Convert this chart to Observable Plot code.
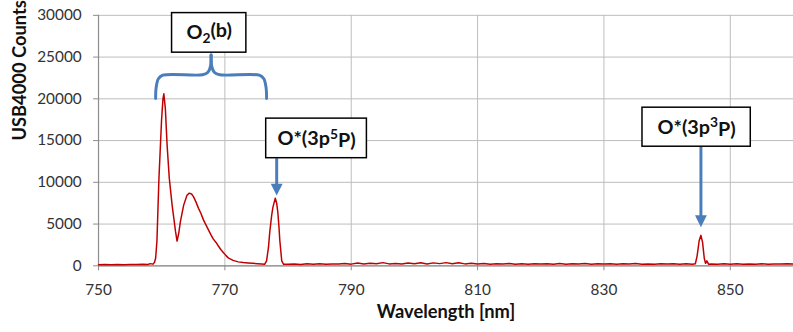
<!DOCTYPE html>
<html><head><meta charset="utf-8">
<script src="https://cdn.jsdelivr.net/npm/d3@7"></script>
<script src="https://cdn.jsdelivr.net/npm/@observablehq/plot@0.6"></script>
<style>html,body{margin:0;padding:0;overflow:hidden;background:#fff}</style>
</head><body><div id="chart"></div>
<script>
// Spectrum
const wavelength = [
750,751,752,753,754,755,756,757,757.8,758.2,758.6,758.85,
759.04,759.25,759.56,759.98,760.2,760.34,760.58,760.86,761.2,761.65,762.18,762.43,
762.7,762.96,763.48,764.0,764.37,764.73,765.05,765.45,765.83,766.2,766.61,767.0,
767.4,767.8,768.18,768.6,768.97,769.35,769.75,770.15,770.53,771.3,772.1,772.9,
773.67,774.4,775.2,775.8,776.29,776.6,776.9,777.1,777.4,777.6,777.98,778.2,
778.37,778.55,778.7,779.0,779.3,
780,781,782,783,784,785,786,787,788,789,790,791,792,793,794,795,796,797,798,799,
800,801,802,803,804,805,806,807,808,809,810,811,812,813,814,815,816,817,818,819,
820,821,822,823,824,825,826,827,828,829,830,831,832,833,834,835,836,837,838,839,
840,841,842,843,844,844.47,844.75,845.07,845.35,845.61,845.88,846.08,846.29,846.55,
847,848,849,850,851,852,853,854,855,856,857,858,859,860
];
const counts = [
120,150,130,160,140,170,150,180,160,260,200,400,
900,3000,10400,17500,20000,20600,18800,14400,10500,7270,4150,2960,
3900,5300,7270,8450,8700,8600,8260,7600,6880,6300,5500,4900,
4300,3700,3200,2800,2370,1950,1600,1250,950,650,470,400,
350,300,250,220,180,600,2200,4000,6000,7000,8100,7500,
6500,4800,3000,600,180,
180,220,170,240,200,260,190,230,210,280,200,340,220,300,250,380,230,290,210,330,
240,360,220,350,260,380,250,360,230,300,220,280,190,250,210,270,200,240,190,260,
220,250,180,270,200,240,210,280,200,250,220,260,190,240,210,270,200,230,190,250,
210,260,200,240,190,250,1200,3000,3650,2800,900,300,600,200,
220,190,240,200,260,190,230,200,250,190,230,210,240,200
];
const xTicks = [750, 770, 790, 810, 830, 850];
const yTicks = [0, 5000, 10000, 15000, 20000, 25000, 30000];

// Annotation boxes (data units)
const boxText = ["O2(b)", "O*(3p5P)", "O*(3p3P)"];
const boxX1 = [761.64, 776.54, 836.1];
const boxX2 = [773.4, 792.48, 853.24];
const boxY1 = [25530, 12890, 14265];
const boxY2 = [30270, 17630, 18940];

// Arrows (data units)
const arrowX = [778.2, 845.35];
const arrowFrom = [12890, 14265];
const arrowTip = [8420, 4625];

// Curly bracket over the O2(b) band (data units)
const bracketX = [759.04,759.12,759.48,760.19,766.46,767.32,767.74,767.82,
                  776.6,776.52,776.16,775.45,769.18,768.32,767.9,767.82];
const bracketY = [20040,21345,22410,22830,22886,23180,23950,25260,
                  20040,21345,22410,22830,22886,23180,23950,25260];
const bracketSide = ["L","L","L","L","L","L","L","L","R","R","R","R","R","R","R","R"];

const spectrum = wavelength.map((w, i) => ({w, c: counts[i]}));
const boxes = boxText.map((t, i) => ({t, x1: boxX1[i], x2: boxX2[i], y1: boxY1[i], y2: boxY2[i]}));
const arrows = arrowX.map((x, i) => ({x, y1: arrowFrom[i], y2: arrowTip[i] + 1100, tip: arrowTip[i]}));
const bracket = bracketX.map((x, i) => ({x, y: bracketY[i], s: bracketSide[i]}));

const blue = "#4a7ebb";
const downTriangle = {
  draw(ctx) { ctx.moveTo(-6, -12); ctx.lineTo(6, -12); ctx.lineTo(0, 0); ctx.closePath(); }
};

const chart = Plot.plot({
  width: 801, height: 332,
  marginLeft: 99, marginRight: 0, marginTop: 15, marginBottom: 64,
  style: {fontFamily: "Lato, 'Open Sans', sans-serif", fontSize: "15px", color: "#333", background: "#fff"},
  x: {domain: [750, 860]},
  y: {domain: [0, 30000]},
  marks: [
    Plot.gridY(yTicks, {stroke: "#bcbcbc", strokeOpacity: 1}),
    Plot.gridX(xTicks, {stroke: "#bcbcbc", strokeOpacity: 1}),
    Plot.ruleY([0], {stroke: "#8c8c8c", strokeWidth: 1.2}),
    Plot.ruleX([750], {stroke: "#8c8c8c", strokeWidth: 1.2}),
    Plot.axisY(yTicks, {tickSize: 5, tickPadding: 12, label: null, tickFormat: d3.format("d"),
      fontSize: 15.5, stroke: "#8c8c8c", fill: "#333"}),
    Plot.axisX(xTicks, {tickSize: 5, tickPadding: 13, label: null, tickFormat: d3.format("d"),
      fontSize: 15.5, stroke: "#8c8c8c", fill: "#333"}),
    Plot.line(spectrum, {x: "w", y: "c", stroke: "#c00000", strokeWidth: 1.5}),
    Plot.line(bracket, {x: "x", y: "y", z: "s", curve: "catmull-rom", stroke: blue, strokeWidth: 3}),
    Plot.link(arrows, {x1: "x", x2: "x", y1: "y1", y2: "y2", stroke: blue, strokeWidth: 3}),
    Plot.dot(arrows, {x: "x", y: "tip", symbol: downTriangle, fill: blue, stroke: "none"}),
    Plot.rect(boxes, {x1: "x1", x2: "x2", y1: "y1", y2: "y2", fill: "white", stroke: "black", strokeWidth: 1.5}),
    Plot.text(boxes, {x: d => (d.x1 + d.x2) / 2, y: d => (d.y1 + d.y2) / 2, text: "t",
      fontSize: 20, fontWeight: "bold", fill: "#111"}),
    Plot.text(["USB4000 Counts"], {frameAnchor: "left", rotate: -90, dx: -79, fontSize: 18.5, fontWeight: "bold", fill: "#111"}),
    Plot.text(["Wavelength [nm]"], {frameAnchor: "bottom", dy: 53, fontSize: 18.5, fontWeight: "bold", fill: "#111"})
  ]
});

// Subscript / superscript formatting
d3.select(chart).selectAll("text").each(function() {
  const s = this.textContent;
  const sel = d3.select(this);
  if (s === "O2(b)") {
    sel.text("O");
    sel.append("tspan").attr("font-size", "0.7em").attr("dy", "0.3em").text("2");
    sel.append("tspan").attr("dy", "-0.3em").text("(b)");
  } else if (s === "O*(3p5P)" || s === "O*(3p3P)") {
    const n = s[5];
    sel.text("O*(3p");
    sel.append("tspan").attr("font-size", "0.7em").attr("dy", "-0.45em").text(n);
    sel.append("tspan").attr("dy", "0.45em").text("P)");
  }
});

document.getElementById("chart").appendChild(chart);
</script>
</body></html>
